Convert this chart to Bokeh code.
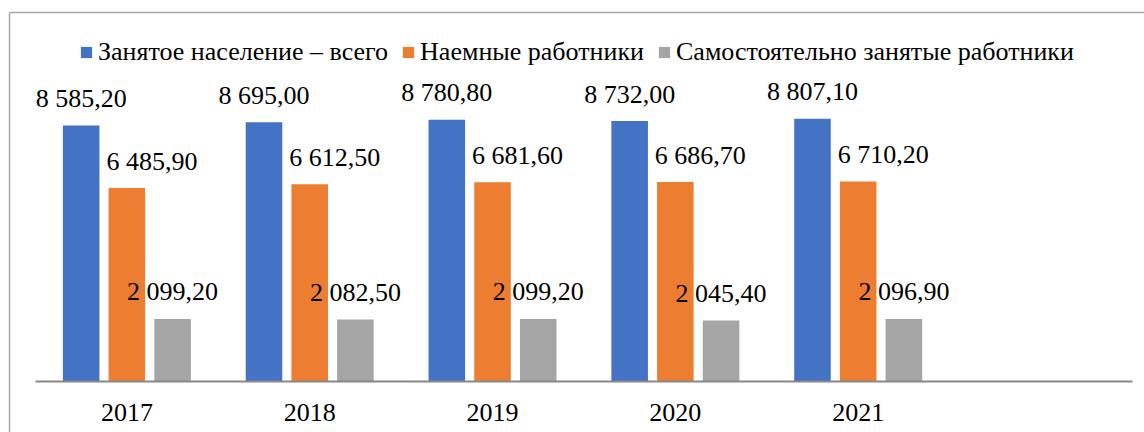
from bokeh.plotting import figure
from bokeh.models import (Range1d, LinearAxis, FixedTicker, Legend, LegendItem,
                          ColumnDataSource)
from bokeh.core.properties import value
from bokeh.embed import file_html
from bokeh.resources import INLINE

years = ["2017", "2018", "2019", "2020", "2021"]
total = [8585.20, 8695.00, 8780.80, 8732.00, 8807.10]
hired = [6485.90, 6612.50, 6681.60, 6686.70, 6710.20]
self_emp = [2099.20, 2082.50, 2099.20, 2045.40, 2096.90]
series_names = ["Занятое население – всего", "Наемные работники",
                "Самостоятельно занятые работники"]
colors = ["#4472C4", "#ED7D31", "#A5A5A5"]


def fmt(v):
    return f"{v:,.2f}".replace(",", " ").replace(".", ",")


FONT = "Liberation Serif"
FS = "26px"

p = figure(width=1144, height=432, output_backend="svg", toolbar_location=None,
           x_range=Range1d(-0.642, 5.566), y_range=Range1d(-1710, 12374),
           x_axis_location=None, y_axis_location=None,
           min_border_left=9, min_border_right=0, min_border_top=12,
           min_border_bottom=0)
p.grid.visible = False
p.outline_line_color = None
p.background_fill_color = "white"
p.border_fill_color = "white"

idx = list(range(len(years)))
offsets = [-0.25, 0.0, 0.25]
bar_w = 0.2
label_dx = [0, 25, 0]
renderers = []
for vals, color, off, dx in zip([total, hired, self_emp], colors, offsets, label_dx):
    src = ColumnDataSource(dict(x=[i + off for i in idx], top=vals,
                                label=[fmt(v) for v in vals]))
    r = p.vbar(x="x", top="top", bottom=0, width=bar_w, source=src,
               fill_color=color, line_color=None)
    renderers.append(r)
    p.text(x="x", y="top", text="label", source=src, x_offset=dx, y_offset=-27,
           text_align="center", text_baseline="middle", text_font=value(FONT),
           text_font_size=FS, text_color="black")

xaxis = LinearAxis(ticker=FixedTicker(ticks=idx, minor_ticks=[]),
                   major_label_overrides={i: y for i, y in zip(idx, years)},
                   fixed_location=0, bounds=(-0.5, len(years) + 0.5))
xaxis.axis_line_color = "#888888"
xaxis.axis_line_width = 2
xaxis.major_tick_line_color = None
xaxis.minor_tick_line_color = None
xaxis.major_tick_out = 0
xaxis.major_tick_in = 0
xaxis.major_label_standoff = 22
xaxis.major_label_text_font = FONT
xaxis.major_label_text_font_size = FS
xaxis.major_label_text_color = "black"
p.add_layout(xaxis, "below")

for side in ("left", "above"):
    ax = LinearAxis(ticker=FixedTicker(ticks=[], minor_ticks=[]))
    ax.axis_line_color = "#a6a6a6"
    ax.axis_line_width = 1.5
    ax.major_tick_out = 0
    ax.major_tick_in = 0
    ax.minor_tick_out = 0
    ax.minor_tick_in = 0
    ax.major_label_standoff = 0
    ax.major_label_text_font_size = "0px"
    p.add_layout(ax, side)

legend = Legend(items=[LegendItem(label=n, renderers=[r])
                       for n, r in zip(series_names, renderers)],
                orientation="horizontal", location=(70, 365),
                glyph_width=14, glyph_height=14, label_standoff=5, spacing=13,
                padding=0, margin=0, border_line_color=None,
                background_fill_alpha=0, label_text_font=FONT,
                label_text_font_size=FS, label_text_color="black")
p.add_layout(legend, "center")

open("out.html", "w").write(file_html(p, INLINE))
